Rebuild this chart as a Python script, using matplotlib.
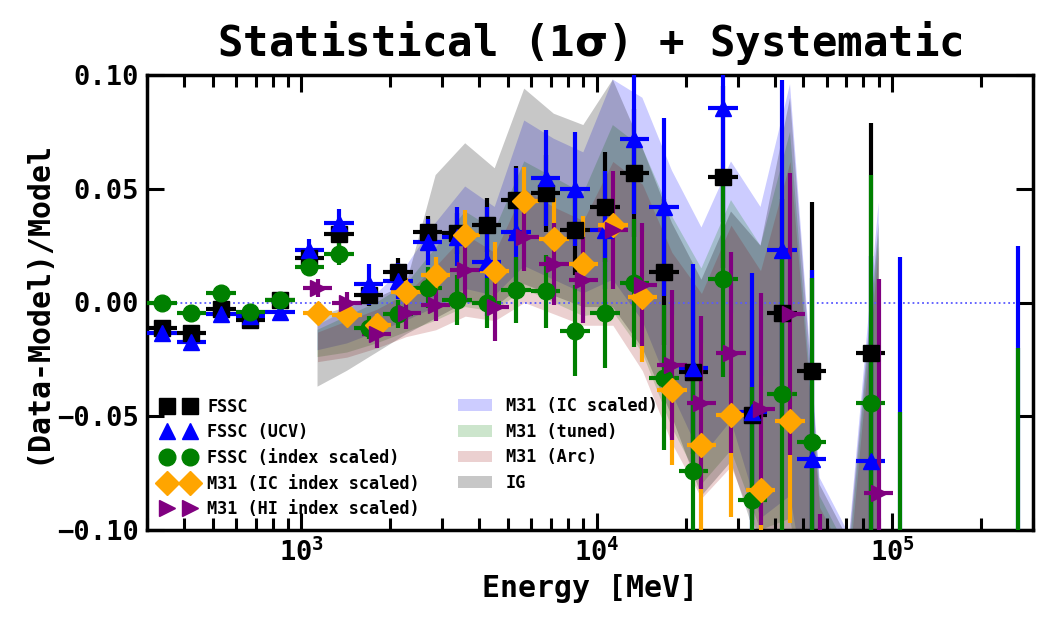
import numpy as np
import matplotlib
matplotlib.use("Agg")
import matplotlib.pyplot as plt
import matplotlib.ticker as mticker

plt.rcParams['font.family'] = ['DejaVu Sans Mono']
plt.rcParams['font.weight'] = 'bold'
plt.rcParams['axes.labelweight'] = 'bold'
plt.rcParams['axes.titleweight'] = 'bold'

nan = np.nan

# energy bin edges [MeV] (30 bins, 300 MeV - 300 GeV)
edges = np.array([300, 377.7, 475.5, 598.6, 753.6, 948.7, 1194.3, 1503.6, 1892.9, 2383.0,
                  3000, 3776.8, 4754.7, 5985.8, 7535.6, 9486.8, 11943, 15036, 18929, 23830,
                  30000, 37768, 47547, 59858, 75356, 94868, 119430, 150360, 189290, 238300,
                  300000])
# bin centres [MeV]
energy = np.array([336.6, 423.8, 533.5, 671.6, 845.6, 1064.5, 1340.1, 1687.1, 2123.9, 2673.8,
                   3366.1, 4237.6, 5334.9, 6716.2, 8455.1, 10644, 13400, 16870, 21238, 26737,
                   33661, 42376, 53349, 67162, 84550, 106440, 134000, 168700, 212380, 267370])

fssc = [-0.011, -0.0134, -0.003, -0.0075, 0.001, 0.0195, 0.030, 0.0035, 0.0135, 0.031,
        0.0305, 0.034, 0.045, 0.048, 0.032, 0.042, 0.057, 0.0134, -0.0305, 0.055,
        -0.0495, -0.0045, -0.030, nan, -0.022, nan, nan, nan, nan, nan]
fssc_err = [0.003, 0.003, 0.003, 0.003, 0.003, 0.004, 0.005, 0.005, 0.006, 0.007,
            0.009, 0.012, 0.015, 0.017, 0.020, 0.024, 0.028, 0.032, 0.036, 0.040,
            0.046, 0.050, 0.074, nan, 0.101, nan, nan, nan, nan, nan]

ucv = [-0.0134, -0.0175, -0.005, -0.006, -0.004, 0.023, 0.035, 0.008, 0.0095, 0.0266,
       0.029, 0.018, 0.031, 0.0547, 0.050, 0.032, 0.072, 0.042, -0.029, 0.0855,
       -0.048, 0.023, -0.0688, nan, -0.0697, -0.13, nan, nan, nan, -0.16]
ucv_err = [0.003, 0.003, 0.003, 0.003, 0.003, 0.005, 0.006, 0.009, 0.008, 0.010,
           0.013, 0.024, 0.028, 0.021, 0.025, 0.026, 0.033, 0.039, 0.046, 0.050,
           0.061, 0.075, 0.083, nan, 0.090, 0.150, nan, nan, nan, 0.185]

idx = [-0.0002, -0.0046, 0.0042, -0.0042, 0.001, 0.0156, 0.0213, -0.011, -0.005, 0.0064,
       0.001, -0.0003, 0.0055, 0.005, -0.0125, -0.0046, 0.0085, -0.033, -0.074, 0.0103,
       -0.087, -0.040, -0.0613, nan, -0.044, -0.13, nan, nan, nan, -0.16]
idx_err = [0.002, 0.002, 0.002, 0.002, 0.003, 0.004, 0.005, 0.005, 0.006, 0.009,
           0.011, 0.011, 0.0145, 0.016, 0.020, 0.024, 0.028, 0.032, 0.040, 0.043,
           0.050, 0.061, 0.072, nan, 0.100, 0.082, nan, nan, nan, 0.140]

m31_ic = [nan, nan, nan, nan, nan, -0.0047, -0.0055, -0.010, 0.0047, 0.012,
          0.0297, 0.014, 0.0446, 0.028, 0.017, 0.034, 0.0025, -0.0385, -0.0626, -0.0495,
          -0.0824, -0.052, nan, nan, nan, nan, nan, nan, nan, nan]
m31_ic_err = [nan, nan, nan, nan, nan, 0.004, 0.005, 0.005, 0.006, 0.008,
              0.011, 0.0126, 0.015, 0.018, 0.021, 0.024, 0.0285, 0.033, 0.045, 0.045,
              0.050, 0.045, nan, nan, nan, nan, nan, nan, nan, nan]

m31_hi = [nan, nan, nan, nan, nan, 0.0064, -0.0002, -0.014, -0.0047, -0.001,
          0.0143, -0.002, 0.029, 0.017, 0.010, 0.032, 0.0078, -0.0275, -0.044, -0.022,
          -0.047, -0.005, -0.17, nan, -0.0838, nan, nan, nan, nan, nan]
m31_hi_err = [nan, nan, nan, nan, nan, 0.004, 0.005, 0.006, 0.007, 0.007,
              0.013, 0.015, 0.015, 0.018, 0.019, 0.026, 0.027, 0.033, 0.038, 0.044,
              0.051, 0.062, 0.077, nan, 0.094, nan, nan, nan, nan, nan]

# systematic bands (bins 6..25)
band_energy = energy[5:25]
ic_hi = [-0.010, -0.003, 0.004, 0.016, 0.035, 0.051, 0.042, 0.080, 0.072, 0.066,
         0.098, 0.090, 0.058, 0.033, 0.062, 0.042, 0.096, -0.077, -0.102, 0.044]
ic_lo = [-0.021, -0.018, -0.013, -0.008, -0.002, 0.006, 0.003, 0.016, 0.010, 0.004,
         0.010, -0.008, -0.040, -0.068, -0.052, -0.095, -0.085, -0.16, -0.20, -0.14]
tuned_hi = [-0.012, -0.006, 0.000, 0.008, 0.024, 0.040, 0.032, 0.062, 0.055, 0.048,
            0.078, 0.068, 0.038, 0.015, 0.045, 0.025, 0.075, -0.085, -0.110, 0.030]
tuned_lo = [-0.024, -0.022, -0.018, -0.013, -0.008, -0.002, -0.004, 0.006, 0.000, -0.006,
            -0.004, -0.022, -0.055, -0.080, -0.065, -0.100, -0.095, -0.17, -0.20, -0.15]
arc_hi = [-0.013, -0.008, -0.003, 0.004, 0.016, 0.030, 0.022, 0.050, 0.042, 0.036,
          0.062, 0.052, 0.022, 0.004, 0.034, 0.014, 0.062, -0.090, -0.115, 0.025]
arc_lo = [-0.026, -0.024, -0.020, -0.015, -0.012, -0.006, -0.008, 0.000, -0.005, -0.010,
          -0.010, -0.030, -0.062, -0.086, -0.072, -0.105, -0.100, -0.17, -0.20, -0.15]
ig_hi = [-0.006, -0.002, 0.002, 0.008, 0.056, 0.070, 0.059, 0.094, 0.083, 0.078,
         0.098, 0.068, 0.035, 0.010, 0.040, 0.025, 0.090, -0.080, -0.105, 0.035]
ig_lo = [-0.037, -0.030, -0.022, -0.014, -0.007, 0.000, -0.002, 0.008, 0.003, -0.002,
         -0.002, -0.020, -0.050, -0.085, -0.070, -0.110, -0.100, -0.17, -0.20, -0.14]

m31_shift = 1.065

fig = plt.figure(figsize=(10.5, 6.19), dpi=100)
ax = fig.add_axes([147/1050, 1-530/619, (1033-147)/1050, (530-75)/619])

be = band_energy * m31_shift
b1 = ax.fill_between(be, ic_lo, ic_hi, color='blue', alpha=0.2, lw=0, label='M31 (IC scaled)', zorder=1)
b2 = ax.fill_between(be, tuned_lo, tuned_hi, color='green', alpha=0.2, lw=0, label='M31 (tuned)', zorder=1)
b3 = ax.fill_between(be, arc_lo, arc_hi, color='brown', alpha=0.22, lw=0, label='M31 (Arc)', zorder=1)
b4 = ax.fill_between(be, ig_lo, ig_hi, color='k', alpha=0.22, lw=0, label='IG', zorder=1)

ax.axhline(0, color=(0.35, 0.35, 1.0), ls=':', lw=1.3, zorder=1.5)

xlo = energy - edges[:-1]
xhi = edges[1:] - energy

series = [
    (fssc, fssc_err, 1.0, 'k', 's', 12, 'FSSC'),
    (ucv, ucv_err, 1.0, 'blue', '^', 12, 'FSSC (UCV)'),
    (idx, idx_err, 1.0, 'green', 'o', 12, 'FSSC (index scaled)'),
    (m31_ic, m31_ic_err, m31_shift, 'orange', 'D', 12, 'M31 (IC index scaled)'),
    (m31_hi, m31_hi_err, m31_shift, 'purple', '>', 12, 'M31 (HI index scaled)'),
]
handles = []
for vals, errs, sh, col, mk, ms, lab in series:
    v = np.array(vals, float)
    e = np.array(errs, float)
    ok = ~np.isnan(v)
    x = energy[ok] * sh
    ax.errorbar(x, v[ok], yerr=e[ok], xerr=[xlo[ok] * sh, xhi[ok] * sh], fmt='none',
                ecolor=col, elinewidth=3, capsize=0, zorder=3)
for vals, errs, sh, col, mk, ms, lab in series:
    v = np.array(vals, float)
    ok = ~np.isnan(v)
    h, = ax.plot(energy[ok] * sh, v[ok], ls='none', marker=mk, ms=ms, color=col,
                 mec=col, label=lab, zorder=4)
    handles.append(h)

ax.set_xscale('log')
ax.set_xlim(300, 3e5)
ax.set_ylim(-0.10, 0.10)
ax.set_yticks([-0.10, -0.05, 0.0, 0.05, 0.10])
ax.yaxis.set_major_formatter(mticker.FuncFormatter(lambda v, p: ('%.2f' % v).replace('-', '\u2212')))
ax.tick_params(which='both', direction='in', top=True, right=True, labelsize=19.5)
ax.tick_params(which='major', length=12, width=2.2, pad=6)
ax.tick_params(which='minor', length=8.5, width=2.2)
for s in ax.spines.values():
    s.set_linewidth(2.5)

ax.set_xlabel('Energy [MeV]', fontsize=21.5, labelpad=5)
ax.set_ylabel('(Data-Model)/Model', fontsize=21.5, labelpad=4)
ax.set_title(r'Statistical (1$\mathrm{\sigma}$) + Systematic', fontsize=30.5, pad=14)

leg1 = ax.legend(handles=handles, loc='lower left', numpoints=2, frameon=False,
                 fontsize=12.2, handlelength=2.0, handletextpad=0.7, labelspacing=0.45,
                 borderaxespad=0.3, bbox_to_anchor=(0.003, 0.0))
ax.add_artist(leg1)
leg2 = ax.legend(handles=[b1, b2, b3, b4], loc='lower left', frameon=False,
                 fontsize=12.2, handlelength=2.0, handletextpad=0.8, labelspacing=0.45,
                 bbox_to_anchor=(0.334, 0.05))

fig.savefig('out.png', dpi=100)
